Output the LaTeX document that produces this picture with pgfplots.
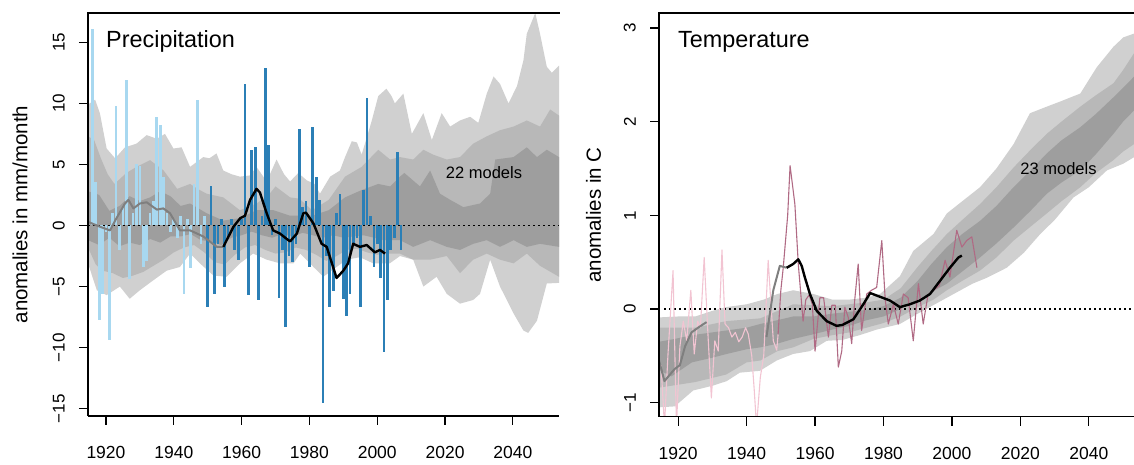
\documentclass[border=0pt]{standalone}
\usepackage{fontspec}
\setmainfont{Liberation Sans}
\usepackage{pgfplots}
\pgfplotsset{compat=1.18}

\definecolor{bandA}{HTML}{D0D0D0}
\definecolor{bandB}{HTML}{B8B8B8}
\definecolor{bandC}{HTML}{9E9E9E}
\definecolor{barold}{HTML}{A8D8F0}
\definecolor{barnew}{HTML}{2B7FB6}
\definecolor{tpale}{HTML}{F2C4D2}
\definecolor{tdark}{HTML}{B06A84}
\definecolor{smgray}{HTML}{7F7F7F}

\pgfplotsset{
  panel/.style={
    scale only axis, axis on top, clip=true,
    axis lines*=left, axis line style={line width=1.4pt, -},
    tick align=outside, major tick length=9pt,
    tick style={black, line width=1.2pt},
    xtick={1920,1940,1960,1980,2000,2020,2040},
    xticklabels={1920,1940,1960,1980,2000,2020,2040},
    xticklabel style={font=\fontsize{17.5}{20}\selectfont, inner sep=0pt, yshift=-21pt},
    % rotated labels: yshift moves them away from the axis
    yticklabel style={font=\fontsize{17}{20}\selectfont, rotate=90, anchor=south, inner sep=0pt, yshift=14pt},
  },
  zeroline/.style={black, line width=1.6pt, dash pattern=on 1.6pt off 3.4pt},
}

\begin{document}
\begin{tikzpicture}
\path[use as bounding box] (0,0) rectangle (1134pt,465pt);

% ---------------- Precipitation ----------------
\begin{axis}[panel, name=p1, at={(88pt,49pt)}, anchor=south west,
  width=471pt, height=403pt,
  xmin=1914.7, xmax=2053.6, ymin=-15.6, ymax=17.4,
  ytick={-15,-10,-5,0,5,10,15},
  yticklabels={−15,−10,−5,0,5,10,15}]

% model range, outer (upper edge, then lower edge backwards)
\addplot[fill=bandA, draw=none] coordinates {
 (1914.7,9.9) (1916.8,10.3) (1918.2,9.2) (1920.2,6.3) (1922.7,5.5) (1925.6,6.4)
 (1929.0,6.7) (1932.0,7.4) (1935.0,7.1) (1937.4,7.5) (1939.9,6.3) (1942.3,6.4)
 (1944.8,4.8) (1948.7,5.6) (1950.5,5.5) (1952.6,5.9) (1954.6,4.5) (1957.0,4.2)
 (1959.5,4.0) (1962.5,4.1) (1964.4,4.8) (1967.4,3.6) (1970.3,5.4) (1972.5,4.2)
 (1974.3,3.6) (1976.7,4.3) (1979.2,3.7) (1981.5,3.4) (1983.1,2.6) (1986.1,4.0)
 (1989.0,4.5) (1990.5,5.6) (1992.5,6.9) (1994.0,6.8) (1995.4,5.8) (1998.3,8.5)
 (2000.3,10.6) (2002.7,11.2) (2004.2,10.6) (2005.2,10.0) (2007.7,10.8)
 (2010.2,7.5) (2013.6,9.2) (2016.1,7.0) (2019.0,9.2) (2021.5,8.1) (2024.4,8.6)
 (2027.4,8.9) (2029.8,8.4) (2032.3,10.8) (2034.3,12.2) (2036.2,11.6)
 (2038.7,10.0) (2041.2,11.4) (2043.1,13.5) (2044.1,15.7) (2046.6,17.4)
 (2048.0,15.7) (2050.0,13.0) (2051.5,12.5) (2053.6,13.1)
 (2053.6,-4.7) (2050.0,-4.75) (2047.1,-7.8) (2044.5,-8.8) (2043.1,-8.6)
 (2040.2,-7.2) (2036.2,-5.0) (2033.3,-2.8) (2030.3,-5.6) (2028.3,-6.1)
 (2024.4,-6.4) (2020.5,-5.6) (2017.5,-4.2) (2013.6,-5.0) (2010.6,-2.8)
 (2006.7,-2.5) (2003.7,-3.1) (1998.8,-3.1) (1994.9,-2.6) (1991.0,-2.8)
 (1988.0,-3.4) (1984.1,-4.2) (1981.2,-3.4) (1977.3,-2.3) (1975.3,-3.1)
 (1971.3,-3.1) (1967.4,-2.8) (1963.4,-2.3) (1959.5,-3.1) (1955.6,-4.2)
 (1951.7,-4.1) (1947.7,-3.1) (1944.8,-2.3) (1941.8,-3.4) (1937.9,-3.7)
 (1933.9,-4.5) (1930.0,-5.3) (1927.0,-6.0) (1924.1,-5.0) (1920.2,-5.7)
 (1917.3,-5.3) (1914.7,-3.1)} -- cycle;

% middle range
\addplot[fill=bandB, draw=none] coordinates {
 (1914.7,7.3) (1916.5,7.0) (1918.5,5.5) (1920.5,4.2) (1922.5,3.4) (1926.0,4.3)
 (1929.0,4.8) (1933.0,5.35) (1937.0,4.5) (1941.0,3.0) (1944.8,3.4) (1947.0,3.0)
 (1949.7,2.6) (1954.6,2.3) (1959.5,1.25) (1964.4,1.8) (1968.0,2.5) (1970.0,3.2)
 (1974.3,2.3) (1977.0,2.2) (1980.8,1.25) (1985.7,2.1) (1990.5,4.0) (1995.4,4.8)
 (2000.3,6.2) (2003.8,5.4) (2006.7,5.6) (2010.6,5.4) (2013.6,6.2) (2016.5,5.8)
 (2020.5,5.4) (2024.4,5.6) (2028.3,6.7) (2032.3,7.3) (2036.2,7.8) (2040.2,8.1)
 (2044.1,8.6) (2048.0,8.1) (2051.0,9.5) (2053.6,9.0)
 (2053.6,-4.2) (2048,-3.3) (2044.1,-2.3) (2040.2,-3.1) (2036.2,-2.8)
 (2032.3,-2.3) (2028.3,-2.8) (2024.4,-3.9) (2020.5,-2.5) (2015.6,-2.8)
 (2010.6,-2.8) (2006.7,-2.3) (2003,-2.3) (2000,-2.4) (1997,-2.2) (1994,-1.9)
 (1991,-2.0) (1988,-2.5) (1985,-2.9) (1982,-2.4) (1979,-2.0) (1976,-1.8)
 (1973,-2.2) (1970,-2.3) (1967,-2.0) (1964,-1.6) (1961,-1.8) (1958,-2.4)
 (1955,-3.2) (1952,-3.0) (1949,-2.2) (1946,-1.6) (1943,-1.8) (1940,-2.2)
 (1937,-2.8) (1934,-3.3) (1931,-3.8) (1928,-4.1) (1925,-4.3) (1922,-3.9)
 (1919,-3.7) (1917,-3.2) (1914.7,-1.8)} -- cycle;

% inner range
\addplot[fill=bandC, draw=none] coordinates {
 (1914.7,2.8) (1918,2.5) (1921,1.2) (1924,1.6) (1927,2.4) (1930,2.0) (1933,2.3)
 (1936,2.8) (1939,2.4) (1942,1.6) (1944.8,1.8) (1949.7,1.0) (1954.6,0.4)
 (1959.5,0.6) (1964.4,1.25) (1969.4,1.25) (1974.3,0.8) (1980.8,0.8)
 (1985.7,1.25) (1990.5,2.3) (1995.4,2.9) (2000.3,3.4) (2003.8,3.2)
 (2006.7,4.0) (2008.0,4.3) (2012.6,3.2) (2015.6,4.5) (2018.5,2.6) (2021.5,2.1)
 (2025.4,1.5) (2030.3,1.8) (2033.3,2.6) (2034.8,5.4) (2040.2,5.6) (2044.1,6.4)
 (2047.1,5.6) (2050.0,6.2) (2053.6,5.6)
 (2053.6,-1.75) (2048,-1.5) (2044.1,-1.75) (2040.2,-1.2) (2036.2,-1.75)
 (2032.3,-1.2) (2028.3,-1.5) (2024.4,-2.0) (2020.5,-1.75) (2015.6,-1.2)
 (2010.6,-1.75) (2006.7,-1.2) (2002,-1.2) (1999,-1.0) (1996,-0.8) (1993,-0.9)
 (1990,-1.0) (1987,-0.8) (1984,-1.0) (1981,-0.8) (1978,-0.6) (1975,-0.9)
 (1972,-0.7) (1969,-1.0) (1966,-0.8) (1963,-0.5) (1960,-0.8) (1957,-1.0)
 (1954,-1.6) (1951,-1.3) (1948,-1.2) (1945,-0.7) (1942,-0.9) (1939,-0.9)
 (1936,-1.4) (1933,-1.1) (1930,-1.6) (1927,-1.4) (1924,-1.7) (1921,-1.0)
 (1918,-1.6) (1914.7,-1.2)} -- cycle;

% observed annual anomalies
\addplot[ycomb, draw=barold, line width=2.7pt] coordinates {
 (1916,16.1) (1917,3.6) (1918,-7.7) (1919,-5.6) (1920,-0.5) (1921,-9.4)
 (1922,1.0) (1923,9.8) (1924,-2.0) (1925,1.5) (1926,11.9) (1927,-4.4)
 (1928,1.0) (1929,5.0) (1930,4.9) (1931,-3.4) (1932,-2.9) (1933,1.0)
 (1934,2.0) (1935,8.9) (1936,8.2) (1937,4.0) (1938,1.0) (1939,-0.5)
 (1940,0.5) (1941,-1.0) (1942,0.8) (1943,-5.6) (1944,0.5) (1945,-3.5)
 (1946,3.4) (1947,10.3) (1948,-1.5) (1949,0.8)};
\addplot[ycomb, draw=barnew, line width=2.7pt] coordinates {
 (1950,-6.7) (1951,3.2) (1952,-5.6) (1953,-1.5) (1954,0.5) (1955,-5.0)
 (1956,-1.0) (1957,0.5) (1958,-2.0) (1959,-2.8) (1960,0.5) (1961,11.6)
 (1962,-5.7) (1963,6.2) (1964,6.4) (1965,-6.1) (1966,0.8) (1967,12.9)
 (1968,6.6) (1969,-0.8) (1970,0.5) (1971,-5.9) (1972,-2.0) (1973,-8.3)
 (1974,-2.5) (1975,-3.0) (1976,-1.5) (1977,7.9) (1978,1.5) (1979,2.0)
 (1980,-3.4) (1981,8.1) (1982,4.0) (1983,2.1) (1984,-14.5) (1985,-2.5)
 (1986,-6.7) (1987,-5.4) (1988,1.0) (1989,2.6) (1990,-6.0) (1991,-7.4)
 (1992,-5.6) (1993,-1.5) (1994,-1.0) (1995,-6.7) (1996,2.9) (1997,10.4)
 (1998,0.8) (1999,-3.4) (2000,-1.5) (2001,-4.3) (2002,-10.4) (2003,-6.1)
 (2004,-2.0) (2005,-1.0) (2006,6.0) (2007,-2.0)};

\addplot[zeroline] coordinates {(1914.7,0) (2053.6,0)};

% smoothed observations
\addplot[smgray, line width=2pt, line join=round] coordinates {
 (1914.7,0.3) (1918.2,-0.1) (1921.2,-0.4) (1922.7,0.4) (1925.6,1.8)
 (1926.6,2.1) (1928.1,1.4) (1930,1.8) (1932,1.9) (1935,1.3) (1936.9,1.4)
 (1938.9,1.0) (1941.8,-0.4) (1944.8,-0.4) (1948.7,-0.9) (1952.7,-1.75)
 (1954.6,-1.75)};
\addplot[black, line width=2.4pt, line join=round] coordinates {
 (1954.6,-1.75) (1957.6,-0.1) (1959.6,0.6) (1961,0.8) (1962.5,2.1)
 (1964.4,3.0) (1965.4,2.7) (1967.4,1.0) (1969.3,-0.4) (1971.3,-0.66)
 (1973.3,-1.1) (1974.3,-1.3) (1976.3,-0.66) (1978.2,1.0) (1979,1.05)
 (1981.2,0.16) (1983.6,-1.5) (1985.1,-1.75) (1988,-4.3) (1990,-3.7)
 (1991.4,-3.1) (1992.9,-1.5) (1994.9,-1.75) (1996.9,-1.6) (1999.3,-2.2)
 (2000.8,-2.0) (2002.3,-2.3)};
\end{axis}

% ---------------- Temperature ----------------
\begin{axis}[panel, name=p2, at={(659pt,48.3pt)}, anchor=south west,
  width=475pt, height=403.7pt,
  xmin=1914.4, xmax=2053.2, ymin=-1.15, ymax=3.16,
  ytick={-1,0,1,2,3},
  yticklabels={−1,0,1,2,3}]

\addplot[fill=bandA, draw=none] coordinates {
 (1914.4,-0.09) (1920,-0.08) (1925,-0.08) (1930,-0.02) (1934,0.02) (1940,0.05)
 (1945,0.1) (1949,0.16) (1953.6,0.2) (1959.5,0.16) (1965,0.1) (1970,0.1)
 (1975,0.12) (1979,0.16) (1984.8,0.35) (1988.7,0.62) (1994.6,0.8)
 (1998.5,1.02) (2003,1.15) (2008.2,1.3) (2013,1.5) (2018,1.76) (2022.8,2.09)
 (2027.7,2.16) (2032,2.22) (2037.5,2.3) (2042.3,2.58) (2047.2,2.8)
 (2050.1,2.9) (2053.2,2.94)
 (2053.2,1.62) (2050,1.55) (2045.3,1.48) (2040,1.3) (2035.5,1.19) (2030,0.95)
 (2025.8,0.8) (2021,0.6) (2016,0.44) (2010,0.33) (2006,0.27) (2000,0.15)
 (1995,0.05) (1990,-0.05) (1984.8,-0.16) (1978,-0.22) (1973,-0.28)
 (1968,-0.33) (1963.4,-0.34) (1958.5,-0.45) (1953.6,-0.48) (1948.8,-0.55)
 (1943.9,-0.66) (1938,-0.68) (1934.2,-0.77) (1930,-0.82) (1924.4,-0.87)
 (1919,-1.04) (1914.4,-1.05)} -- cycle;

\addplot[fill=bandB, draw=none] coordinates {
 (1914.4,-0.2) (1925,-0.2) (1934,-0.13) (1944,-0.1) (1953.6,0.05)
 (1959.5,0.04) (1965,0.03) (1970,0.05) (1975,0.07) (1980,0.1) (1985,0.22)
 (1990,0.45) (1994,0.62) (1998.5,0.8) (2003,0.95) (2008.2,1.12) (2013,1.3)
 (2018,1.51) (2023,1.7) (2027.7,1.87) (2032,2.0) (2037.5,2.16) (2042,2.28)
 (2047.2,2.41) (2050,2.55) (2053.2,2.73)
 (2053.2,1.76) (2050,1.68) (2047.2,1.59) (2042,1.45) (2037.5,1.3) (2032,1.15)
 (2027.7,1.02) (2023,0.88) (2018,0.73) (2013,0.55) (2008.2,0.41) (2003,0.3)
 (1998.5,0.2) (1994.6,0.1) (1990,0.02) (1985,-0.08) (1980,-0.15) (1975,-0.2)
 (1970,-0.25) (1965,-0.28) (1959.5,-0.32) (1953.6,-0.41) (1949,-0.45)
 (1944,-0.55) (1940,-0.57) (1934,-0.7) (1925,-0.78) (1914.4,-0.84)} -- cycle;

\addplot[fill=bandC, draw=none] coordinates {
 (1914.4,-0.35) (1919,-0.32) (1924,-0.28) (1930,-0.25) (1934,-0.23)
 (1940,-0.2) (1944,-0.16) (1949,-0.12) (1953.6,-0.08) (1959.5,-0.08)
 (1965,-0.05) (1970,-0.03) (1975,-0.01) (1980,0.03) (1985,0.12) (1990,0.3)
 (1994,0.48) (1998.5,0.66) (2003,0.8) (2008.2,0.94) (2013,1.1) (2018,1.3)
 (2023,1.48) (2027.7,1.66) (2032,1.8) (2037.5,1.94) (2042,2.08)
 (2047.2,2.26) (2050,2.36) (2053.2,2.48)
 (2053.2,2.12) (2050,2.0) (2047.2,1.87) (2042,1.65) (2037.5,1.48) (2032,1.35)
 (2027.7,1.23) (2023,1.05) (2018,0.87) (2013,0.7) (2008.2,0.55) (2003,0.4)
 (1998.5,0.27) (1994,0.18) (1990,0.1) (1985,0.0) (1980,-0.08) (1975,-0.12)
 (1970,-0.18) (1965,-0.22) (1959.5,-0.27) (1953.6,-0.32) (1949,-0.37)
 (1944,-0.41) (1940,-0.43) (1934.2,-0.48) (1930,-0.52) (1924,-0.57)
 (1918,-0.72) (1914.4,-0.65)} -- cycle;

\addplot[zeroline] coordinates {(1916,0) (2053.2,0)};

% observed annual anomalies
\addplot[tpale, line width=1.1pt, line join=round] coordinates {
 (1915,-0.6) (1916,-1.25) (1917,-0.5) (1918.5,0.41) (1919.5,-1.25)
 (1920.5,-0.4) (1921.5,-0.13) (1922.5,-0.34) (1923.7,0.2) (1924.7,-0.48)
 (1925.7,-0.13) (1926.5,-0.2) (1927.6,0.55) (1928.8,-0.34) (1929.7,-0.95)
 (1930.7,-0.34) (1931.7,-0.45) (1932.8,0.63) (1933.7,-0.16) (1934.7,-0.2)
 (1935.7,-0.3) (1936.7,-0.25) (1937.7,-0.35) (1938.7,-0.3) (1939.7,-0.2)
 (1940.5,-0.27) (1941.5,-0.5) (1942.2,-0.85) (1942.9,-1.25) (1944,-0.73)
 (1945,-0.5) (1946.3,0.52) (1947.8,-0.34) (1948.8,-0.44) (1949.2,-0.27)};
\addplot[tdark, line width=1.1pt, line join=round] coordinates {
 (1949.2,-0.27) (1950,0.2) (1950.7,0.44) (1952,1.0) (1952.7,1.53)
 (1954.1,1.12) (1955.1,0.48) (1956.5,-0.13) (1957.3,0.1) (1958.3,0.15)
 (1959.2,0.05) (1960,-0.45) (1961.4,0.12) (1962.5,0.12) (1963.9,-0.3)
 (1964.9,0.04) (1965.9,0.04) (1966.8,-0.62) (1967.8,-0.45) (1968.7,0.02)
 (1969.7,-0.09) (1970.7,-0.37) (1971.6,0.1) (1972.6,0.48) (1973.6,-0.23)
 (1975.1,0.16) (1976.5,0.2) (1978,0.23) (1979.5,0.73) (1980.5,0.1)
 (1981.4,-0.16) (1982.9,0.05) (1984.3,-0.16) (1985.8,0.16) (1987.2,0.12)
 (1988.7,-0.34) (1990.2,0.27) (1991.6,-0.16) (1993,0.15) (1994.6,0.2)
 (1996.3,0.25) (1998,0.52) (1999.4,0.34) (2001.4,0.84) (2002.9,0.66)
 (2004.3,0.73) (2005.8,0.77) (2007.3,0.44)};

% smoothed observations
\addplot[smgray, line width=2pt, line join=round] coordinates {
 (1914.4,-0.55) (1916,-0.77) (1917.6,-0.7) (1919,-0.64) (1920.5,-0.6)
 (1922,-0.4) (1923.9,-0.25) (1925.8,-0.2) (1928.3,-0.14)};
\addplot[smgray, line width=2pt, line join=round] coordinates {
 (1945.8,-0.3) (1947.8,0.2) (1949.7,0.46) (1951.7,0.44)};
\addplot[black, line width=2.4pt, line join=round] coordinates {
 (1951.7,0.44) (1953.6,0.48) (1955.1,0.53) (1956.1,0.46) (1957,0.34)
 (1958.5,0.16) (1960.5,-0.02) (1963.4,-0.13) (1966.3,-0.18) (1968,-0.17)
 (1971.2,-0.11) (1974.1,0.05) (1976.1,0.17) (1979,0.13) (1981.9,0.09)
 (1984.8,0.02) (1987.7,0.05) (1990.6,0.09) (1993.6,0.16) (1996.5,0.3)
 (1999.4,0.44) (2001.9,0.55) (2002.9,0.57)};
\end{axis}

\draw[line width=1.4pt, line cap=rect] (p1.north west) -- (p1.north east);
\draw[line width=1.4pt, line cap=rect] (p2.north west) -- (p2.north east);

\node[anchor=base west, inner sep=0pt] at (106pt,417pt)
  {\fontsize{23.4}{28}\selectfont Precipitation};
\node[anchor=base west, inner sep=0pt] at (678pt,417pt)
  {\fontsize{23.4}{28}\selectfont Temperature};
\node[inner sep=0pt] at (484pt,292pt) {\fontsize{16.5}{20}\selectfont 22 models};
\node[inner sep=0pt] at (1058.5pt,296.5pt) {\fontsize{16.5}{20}\selectfont 23 models};
\node[rotate=90, inner sep=0pt] at (20pt,250.5pt)
  {\fontsize{20.5}{24}\selectfont anomalies in mm/month};
\node[rotate=90, inner sep=0pt] at (593.5pt,250pt)
  {\fontsize{20.5}{24}\selectfont anomalies in C};
\end{tikzpicture}
\end{document}
